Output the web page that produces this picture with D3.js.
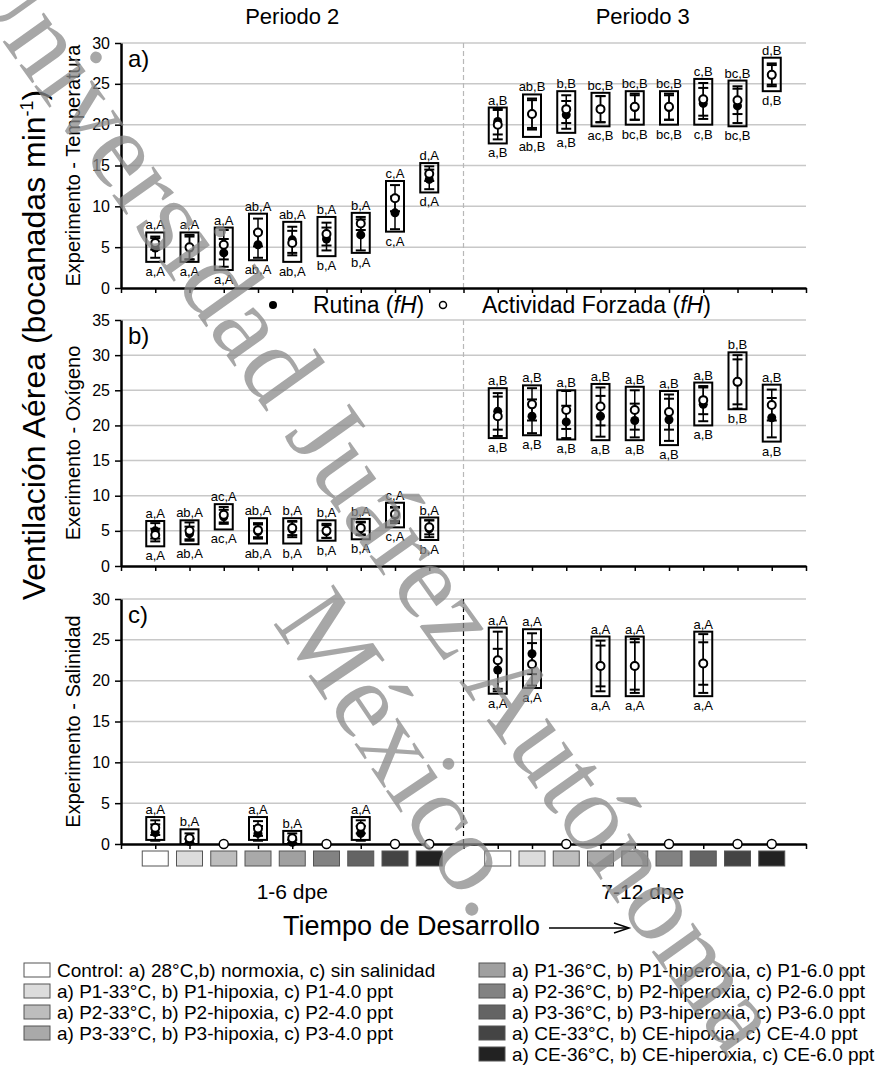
<!DOCTYPE html>
<html>
<head>
<meta charset="utf-8">
<script src="https://cdn.jsdelivr.net/npm/d3@7"></script>
<style>
  body { margin: 0; background: #fff; }
  svg { font-family: "Liberation Sans", Arial, sans-serif; }
</style>
</head>
<body>
<script>
// treatments, in the order they appear inside each period
var tratamientos = ["Control", "P1-33", "P2-33", "P3-33", "P1-36", "P2-36", "P3-36", "CE-33", "CE-36"]
var colores = ["#ffffff", "#dcdcdc", "#bdbdbd", "#a9a9a9", "#a0a0a0", "#828282", "#646464", "#444444", "#222222"]
var periodos = ["Periodo 2", "Periodo 3"]
var dpe = ["1-6 dpe", "7-12 dpe"]

var leyenda = [
  "Control: a) 28°C,b) normoxia, c) sin salinidad",
  "a) P1-33°C, b) P1-hipoxia, c) P1-4.0 ppt",
  "a) P2-33°C, b) P2-hipoxia, c) P2-4.0 ppt",
  "a) P3-33°C, b) P3-hipoxia, c) P3-4.0 ppt",
  "a) P1-36°C, b) P1-hiperoxia, c) P1-6.0 ppt",
  "a) P2-36°C, b) P2-hiperoxia, c) P2-6.0 ppt",
  "a) P3-36°C, b) P3-hiperoxia, c) P3-6.0 ppt",
  "a) CE-33°C, b) CE-hipoxia, c) CE-4.0 ppt",
  "a) CE-36°C, b) CE-hiperoxia, c) CE-6.0 ppt"
]

// a) temperatura  (periodo 2 then periodo 3)
var aRutina      = [4.9, 4.9, 4.3, 5.3, 5.9, 6.0, 6.5, 9.2, 13.3,  20.4, 21.3, 21.2, 21.9, 22.1, 22.1, 22.6, 22.3, 26.1]
var aRutinaErr   = [1.2, 1.4, 1.7, 1.6, 1.6, 1.4, 1.9, 2.0, 1.2,   1.6, 1.7, 1.7, 1.6, 1.5, 1.5, 1.9, 2.1, 1.4]
var aForzada     = [5.5, 5.0, 5.3, 6.8, 5.5, 6.6, 7.9, 11.0, 14.0, 20.0, 21.3, 21.9, 21.9, 22.2, 22.2, 23.1, 23.0, 26.1]
var aForzadaErr  = [0.8, 1.5, 1.8, 1.7, 1.5, 1.4, 0.8, 1.6, 0.9,   1.8, 1.9, 1.7, 1.6, 1.6, 1.6, 2.0, 1.7, 1.2]
var aCajaMin     = [3.2, 3.2, 2.2, 3.4, 3.2, 3.9, 4.3, 6.9, 11.7,  17.7, 18.5, 19.0, 19.8, 20.0, 20.0, 20.0, 19.8, 24.1]
var aCajaMax     = [6.8, 6.8, 7.4, 9.1, 8.1, 8.7, 9.2, 13.1, 15.3, 22.1, 23.7, 24.1, 23.9, 24.1, 24.1, 25.6, 25.4, 28.2]
var aLetraSup    = ["a,A","a,A","a,A","ab,A","ab,A","b,A","b,A","c,A","d,A", "a,B","ab,B","b,B","bc,B","bc,B","bc,B","c,B","bc,B","d,B"]
var aLetraInf    = ["a,A","a,A","a,A","ab,A","ab,A","b,A","b,A","c,A","d,A", "a,B","ab,B","a,B","ac,B","bc,B","bc,B","c,B","bc,B","d,B"]

// b) oxigeno
var bRutina      = [5.0, 4.6, 7.0, 4.9, 5.2, 4.9, 5.3, 7.2, 5.3,  22.0, 21.3, 20.5, 21.3, 20.7, 20.8, 23.0, 26.2, 21.1]
var bRutinaErr   = [1.1, 1.0, 1.0, 1.0, 1.1, 0.9, 0.9, 1.1, 1.2,  2.6, 2.4, 2.3, 2.9, 2.4, 3.0, 2.4, 3.2, 2.8]
var bForzada     = [4.4, 5.0, 7.3, 5.1, 5.4, 5.0, 5.4, 7.4, 5.5,  21.3, 23.0, 22.2, 22.7, 22.2, 21.9, 23.6, 26.2, 22.9]
var bForzadaErr  = [0.9, 1.2, 1.1, 1.0, 1.0, 1.0, 0.9, 1.0, 1.0,  2.8, 2.3, 2.7, 2.7, 2.8, 2.5, 2.0, 3.8, 2.2]
var bCajaMin     = [2.8, 3.1, 5.2, 3.2, 3.2, 3.6, 3.8, 5.5, 3.7,  18.2, 18.6, 18.0, 17.9, 17.9, 17.2, 20.0, 22.3, 17.7]
var bCajaMax     = [6.4, 6.5, 8.8, 6.8, 6.8, 6.5, 6.7, 9.0, 6.9,  25.3, 25.7, 25.0, 25.9, 25.5, 24.9, 26.1, 30.4, 25.8]
var bLetraSup    = ["a,A","ab,A","ac,A","ab,A","b,A","b,A","b,A","c,A","b,A", "a,B","a,B","a,B","a,B","a,B","a,B","a,B","b,B","a,B"]
var bLetraInf    = ["a,A","ab,A","ac,A","ab,A","b,A","b,A","b,A","c,A","b,A", "a,B","a,B","a,B","a,B","a,B","a,B","a,B","b,B","a,B"]

// c) salinidad (null box = no data, drawn as an open circle on zero)
var cRutina      = [1.4, 0.3, 0, 1.3, 0.2, 0, 1.3, 0, 0,  21.3, 23.3, 0, 21.8, 21.8, 0, 22.1, 0, 0]
var cRutinaErr   = [1.0, 0.3, 0, 0.9, 0.3, 0, 0.9, 0, 0,  2.6, 2.5, 0, 3.1, 3.3, 0, 3.6, 0, 0]
var cForzada     = [2.0, 0.7, 0, 1.9, 0.7, 0, 2.1, 0, 0,  22.5, 22.0, 0, 21.8, 21.8, 0, 22.1, 0, 0]
var cForzadaErr  = [0.9, 0.6, 0, 0.9, 0.6, 0, 0.8, 0, 0,  3.5, 2.6, 0, 2.5, 2.9, 0, 2.6, 0, 0]
var cCajaMin     = [0.5, 0, null, 0.5, 0, null, 0.5, null, null,  18.4, 19.1, null, 18.1, 18.1, null, 18.1, null, null]
var cCajaMax     = [3.3, 1.8, null, 3.3, 1.6, null, 3.3, null, null,  26.5, 26.3, null, 25.4, 25.4, null, 26.0, null, null]
var cLetraSup    = ["a,A","b,A","","a,A","b,A","","a,A","","", "a,A","a,A","","a,A","a,A","","a,A","",""]
var cLetraInf    = ["","","","","","","","","", "a,A","a,A","","a,A","a,A","","a,A","",""]

var width = 879, height = 1065
var svg = d3.select("body").append("svg").attr("width", width).attr("height", height)

var x = d3.scaleLinear().domain([0, 20]).range([121, 806])
var pos = function(i) { return i < 9 ? i + 1 : i + 2 }

var paneles = [
  {letra: "a)", titulo: "Experimento - Temperatura", max: 30, top: 43, bottom: 288, sep: "#b8b8b8",
   r: aRutina, re: aRutinaErr, f: aForzada, fe: aForzadaErr, lo: aCajaMin, hi: aCajaMax, sup: aLetraSup, inf: aLetraInf},
  {letra: "b)", titulo: "Exerimento - Oxígeno", max: 35, top: 320, bottom: 566, sep: "#b8b8b8",
   r: bRutina, re: bRutinaErr, f: bForzada, fe: bForzadaErr, lo: bCajaMin, hi: bCajaMax, sup: bLetraSup, inf: bLetraInf},
  {letra: "c)", titulo: "Experimento - Salinidad", max: 30, top: 599, bottom: 844, sep: "#000",
   r: cRutina, re: cRutinaErr, f: cForzada, fe: cForzadaErr, lo: cCajaMin, hi: cCajaMax, sup: cLetraSup, inf: cLetraInf}
]

paneles.forEach(function(p) {
  var y = d3.scaleLinear().domain([0, p.max]).range([p.bottom, p.top])
  var g = svg.append("g")
  var ticks = d3.range(0, p.max + 1, 5)

  g.selectAll(".grid").data(ticks.slice(1)).enter().append("line")
    .attr("x1", x(0)).attr("x2", x(20))
    .attr("y1", function(d) { return y(d) }).attr("y2", function(d) { return y(d) })
    .attr("stroke", "#c8c8c8").attr("stroke-width", 1.5)

  g.append("line").attr("x1", x(10)).attr("x2", x(10)).attr("y1", y(p.max)).attr("y2", y(0))
    .attr("stroke", p.sep).attr("stroke-width", 1.2).attr("stroke-dasharray", "5,3")

  var ay = g.append("g").attr("transform", "translate(" + x(0) + ",0)")
    .call(d3.axisLeft(y).tickValues(ticks).tickSize(6).tickPadding(5).tickSizeOuter(0))
  ay.select(".domain").attr("stroke-width", 2.5)
  ay.selectAll(".tick line").attr("stroke-width", 1.5)
  ay.selectAll("text").attr("font-size", 16).attr("font-family", "Liberation Sans, Arial")

  var ax = g.append("g").attr("transform", "translate(0," + y(0) + ")")
    .call(d3.axisBottom(x).tickValues(d3.range(0, 21)).tickSize(5).tickFormat("").tickSizeOuter(0))
  ax.select(".domain").attr("stroke-width", 2.5)
  ax.selectAll(".tick line").attr("stroke-width", 1.5)

  g.append("text").attr("x", 128).attr("y", p.top + 24).attr("font-size", 24).text(p.letra)

  g.append("text").attr("transform", "translate(80," + ((p.top + p.bottom) / 2) + ") rotate(-90)")
    .attr("text-anchor", "middle").attr("font-size", 20).text(p.titulo)

  var idx = d3.range(p.r.length)
  var conCaja = idx.filter(function(i) { return p.lo[i] !== null })
  var ceros = idx.filter(function(i) { return p.lo[i] === null })

  var pt = g.selectAll(".pt").data(conCaja).enter().append("g")
    .attr("transform", function(i) { return "translate(" + x(pos(i)) + ",0)" })

  pt.append("rect").attr("x", -9).attr("width", 18)
    .attr("y", function(i) { return y(p.hi[i]) })
    .attr("height", function(i) { return y(p.lo[i]) - y(p.hi[i]) })
    .attr("fill", "none").attr("stroke", "#000").attr("stroke-width", 2)

  function barras(m, e) {
    pt.append("line").attr("y1", function(i) { return y(m[i] + e[i]) }).attr("y2", function(i) { return y(Math.max(0, m[i] - e[i])) })
      .attr("stroke", "#000").attr("stroke-width", 1.5)
    ;[1, -1].forEach(function(s) {
      pt.append("line").attr("x1", -5).attr("x2", 5)
        .attr("y1", function(i) { return y(Math.max(0, m[i] + s * e[i])) })
        .attr("y2", function(i) { return y(Math.max(0, m[i] + s * e[i])) })
        .attr("stroke", "#000").attr("stroke-width", 2)
    })
  }
  barras(p.r, p.re)
  barras(p.f, p.fe)

  pt.append("circle").attr("r", 4.5).attr("cy", function(i) { return y(p.r[i]) }).attr("fill", "#000")
  pt.append("circle").attr("r", 4).attr("cy", function(i) { return y(p.f[i]) })
    .attr("fill", "#fff").attr("stroke", "#000").attr("stroke-width", 2)

  pt.append("text").attr("text-anchor", "middle").attr("font-size", 13)
    .attr("y", function(i) { return y(p.hi[i]) - 3 }).text(function(i) { return p.sup[i] })
  pt.append("text").attr("text-anchor", "middle").attr("font-size", 13)
    .attr("y", function(i) { return y(p.lo[i]) + 14 }).text(function(i) { return p.inf[i] })

  g.selectAll(".cero").data(ceros).enter().append("circle")
    .attr("cx", function(i) { return x(pos(i)) }).attr("cy", y(0)).attr("r", 4.5)
    .attr("fill", "#fff").attr("stroke", "#000").attr("stroke-width", 1.5)
})

// colour squares under panel c
periodos.forEach(function(per, k) {
  svg.selectAll(".sq" + k).data(tratamientos).enter().append("rect")
    .attr("x", function(d, i) { return x(k * 10 + i + 1) - 13 }).attr("y", 851)
    .attr("width", 26).attr("height", 15)
    .attr("fill", function(d, i) { return colores[i] }).attr("stroke", "#555").attr("stroke-width", 1)
  svg.append("text").attr("x", x(k * 10 + 5) - (k ? -8 : 0)).attr("y", 899).attr("text-anchor", "middle")
    .attr("font-size", 21).text(dpe[k])
  svg.append("text").attr("x", x(k * 10 + 5) + (k ? 8 : 0)).attr("y", 24).attr("text-anchor", "middle")
    .attr("font-size", 22).text(per)
})

// main title
var tt = svg.append("text").attr("transform", "translate(45,345) rotate(-90)")
  .attr("text-anchor", "middle").attr("font-size", 32)
tt.append("tspan").text("Ventilación Aérea (bocanadas min")
tt.append("tspan").attr("font-size", 18).attr("dy", -12).text("-1")
tt.append("tspan").attr("dy", 12).text(")")

// routine / forced legend
svg.append("circle").attr("cx", 273).attr("cy", 305).attr("r", 4).attr("fill", "#000")
var l1 = svg.append("text").attr("x", 313).attr("y", 313).attr("font-size", 23)
l1.append("tspan").text("Rutina (")
l1.append("tspan").attr("font-style", "italic").text("fH")
l1.append("tspan").text(")")
svg.append("circle").attr("cx", 443).attr("cy", 305).attr("r", 3.5).attr("fill", "#fff").attr("stroke", "#000").attr("stroke-width", 1.5)
var l2 = svg.append("text").attr("x", 482).attr("y", 313).attr("font-size", 23)
l2.append("tspan").text("Actividad Forzada (")
l2.append("tspan").attr("font-style", "italic").text("fH")
l2.append("tspan").text(")")

// development time
svg.append("text").attr("x", 283).attr("y", 935).attr("font-size", 27).text("Tiempo de Desarrollo")
svg.append("line").attr("x1", 549).attr("x2", 628).attr("y1", 928).attr("y2", 928).attr("stroke", "#000").attr("stroke-width", 1.5)
svg.append("path").attr("d", "M614,923 L629,928 L614,933").attr("fill", "none").attr("stroke", "#000").attr("stroke-width", 1.5)

// treatment legend
leyenda.forEach(function(t, i) {
  var col = i < 4 ? 0 : 1
  var row = col ? i - 4 : i
  var lx = col ? 479 : 24
  var ly = 970 + row * 21
  svg.append("rect").attr("x", lx).attr("y", ly - 7).attr("width", 26).attr("height", 14)
    .attr("fill", colores[i]).attr("stroke", "#555").attr("stroke-width", 1)
  svg.append("text").attr("x", lx + 33).attr("y", ly + 7).attr("font-size", 19).text(t)
})

// watermark
var wm = svg.append("g").attr("fill", "#8a8a8a").attr("opacity", 0.75)
  .attr("font-family", "Liberation Serif, Times New Roman, serif").attr("font-size", 110)
wm.append("text").attr("transform", "translate(-45,-25) rotate(54.5)").text("Universidad Juárez Autónoma")
wm.append("text").attr("transform", "translate(272,622) rotate(56)").text("México.")
</script>
</body>
</html>
